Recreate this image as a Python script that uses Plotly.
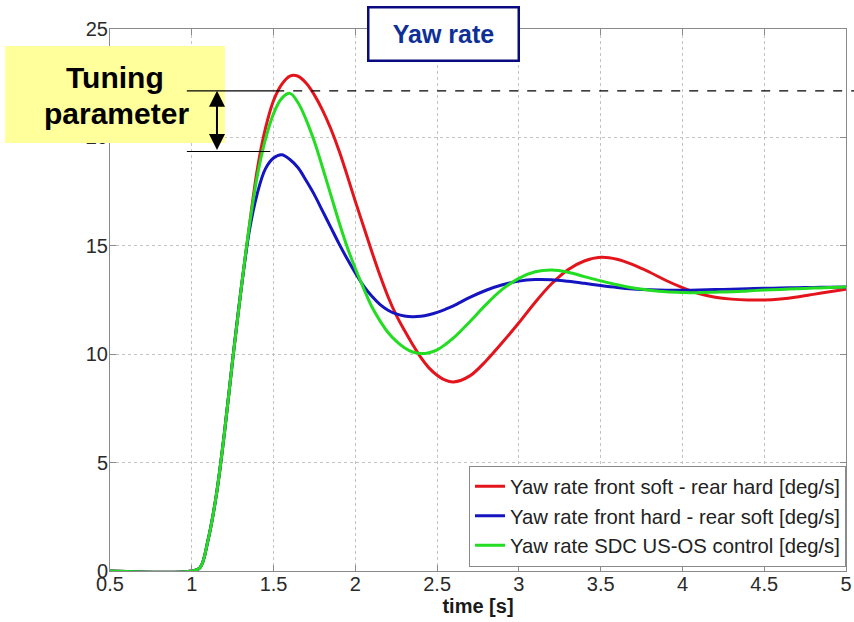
import plotly.graph_objects as go

# Time base [s]
time_s = [0.5, 1.0,
          1.05, 1.10, 1.15, 1.20, 1.25, 1.30, 1.35, 1.40, 1.45, 1.50, 1.55, 1.60,
          1.65, 1.70, 1.75, 1.80, 1.85, 1.90, 1.95, 2.00, 2.05, 2.10, 2.15, 2.20,
          2.25, 2.30, 2.35, 2.40, 2.45, 2.50, 2.55, 2.60,
          2.70, 2.80, 2.90, 3.00, 3.10, 3.20, 3.30, 3.40, 3.50, 3.60,
          3.70, 3.80, 3.90, 4.00, 4.10, 4.20, 4.30, 4.40, 4.50, 4.60,
          4.70, 4.80, 4.90, 5.00]

# Yaw rate, front soft - rear hard [deg/s]
yaw_front_soft = [0, 0,
                  0.15, 1.45, 3.5, 6.4, 9.75, 12.9, 15.8, 18.5, 20.4, 21.7, 22.45, 22.83,
                  22.82, 22.5, 21.95, 21.25, 20.4, 19.4, 18.25, 17.05, 15.9, 14.75, 13.65, 12.65,
                  11.8, 11.1, 10.45, 9.85, 9.37, 9.03, 8.8, 8.72,
                  9.0, 9.7, 10.55, 11.45, 12.4, 13.25, 13.9, 14.3, 14.47, 14.38,
                  14.12, 13.78, 13.4, 13.07, 12.8, 12.63, 12.54, 12.5, 12.5, 12.55,
                  12.64, 12.76, 12.88, 13.0]

# Yaw rate, front hard - rear soft [deg/s]
yaw_front_hard = [0, 0,
                  0.15, 1.45, 3.5, 6.4, 9.75, 12.9, 15.6, 17.4, 18.55, 19.05, 19.2, 18.98,
                  18.6, 18.0, 17.35, 16.6, 15.85, 15.1, 14.4, 13.75, 13.15, 12.68, 12.3, 12.03,
                  11.86, 11.76, 11.73, 11.75, 11.82, 11.93, 12.07, 12.23,
                  12.62, 12.95, 13.2, 13.37, 13.44, 13.43, 13.36, 13.27, 13.17, 13.08,
                  13.01, 12.97, 12.95, 12.95, 12.96, 12.98, 13.0, 13.02, 13.04, 13.05,
                  13.07, 13.08, 13.09, 13.1]

# Yaw rate with SDC US-OS control [deg/s]
yaw_sdc = [0, 0,
           0.15, 1.45, 3.5, 6.4, 9.75, 12.9, 15.8, 18.2, 19.9, 21.1, 21.8, 22.03,
           21.6, 20.8, 19.8, 18.6, 17.35, 16.1, 14.95, 13.95, 13.05, 12.2, 11.55, 11.0,
           10.6, 10.3, 10.1, 10.03, 10.07, 10.2, 10.45, 10.75,
           11.5, 12.3, 13.0, 13.5, 13.8, 13.88, 13.78, 13.58, 13.38, 13.2,
           13.05, 12.95, 12.88, 12.85, 12.84, 12.86, 12.88, 12.92, 12.96, 12.99,
           13.02, 13.05, 13.08, 13.1]

series_names = ["Yaw rate front soft - rear hard [deg/s]",
                "Yaw rate front hard - rear soft [deg/s]",
                "Yaw rate SDC US-OS control [deg/s]"]
series_colors = ["#e3141b", "#1414c0", "#22dd22"]

x_ticks = [0.5, 1, 1.5, 2, 2.5, 3, 3.5, 4, 4.5, 5]
x_tick_labels = ["0.5", "1", "1.5", "2", "2.5", "3", "3.5", "4", "4.5", "5"]
y_ticks = [0, 5, 10, 15, 20, 25]

X_RANGE = [0.5, 5]
Y_RANGE = [0, 25]

# Peak levels bracketing the tuning range
tuning_upper = 22.15
tuning_lower = 19.35

FONT = "Arial, Liberation Sans, Helvetica, sans-serif"

fig = go.Figure()
for name, ys, col in zip(series_names, [yaw_front_soft, yaw_front_hard, yaw_sdc], series_colors):
    fig.add_trace(go.Scatter(x=time_s, y=ys, name=name, mode="lines",
                             line=dict(color=col, width=3, shape="spline", smoothing=1.0)))

axis_common = dict(
    showline=True, linecolor="#8a8a8a", linewidth=1, mirror="allticks",
    ticks="inside", ticklen=6, tickcolor="#8a8a8a",
    showgrid=True, gridcolor="#c4c4c4", griddash="dot", gridwidth=1,
    zeroline=False, automargin=False,
    tickfont=dict(family=FONT, size=20, color="#2a2a2a"),
)

fig.update_xaxes(range=X_RANGE, tickvals=x_ticks, ticktext=x_tick_labels,
                 ticklabelstandoff=-5,
                 title=dict(text="<b>time [s]</b>", standoff=0,
                            font=dict(family=FONT, size=20, color="#1a1a1a")),
                 **axis_common)
fig.update_yaxes(range=Y_RANGE, tickvals=y_ticks, ticklabelstandoff=-3, **axis_common)


def ypaper(v):
    return (v - Y_RANGE[0]) / (Y_RANGE[1] - Y_RANGE[0])


def xpaper(v):
    return (v - X_RANGE[0]) / (X_RANGE[1] - X_RANGE[0])


shapes = [
    # yellow label box
    dict(type="rect", xref="paper", yref="paper", x0=-0.1427, x1=0.1563, y0=0.7897, y1=0.9686,
         fillcolor="#ffff9c", line=dict(width=0), layer="above"),
    # upper level: solid then dashed to the right
    dict(type="line", xref="x", yref="y", x0=0.97, x1=1.51, y0=tuning_upper, y1=tuning_upper,
         line=dict(color="black", width=1.2), layer="above"),
    dict(type="line", xref="paper", yref="paper", x0=xpaper(1.51), x1=1.011,
         y0=ypaper(tuning_upper), y1=ypaper(tuning_upper),
         line=dict(color="black", width=1.2, dash="dash"), layer="above"),
    # lower level
    dict(type="line", xref="x", yref="y", x0=0.97, x1=1.48, y0=tuning_lower, y1=tuning_lower,
         line=dict(color="black", width=1.2), layer="above"),
]

annotations = [
    dict(x=1.154, y=tuning_upper, ax=1.154, ay=tuning_lower, xref="x", yref="y", axref="x", ayref="y",
         text="", showarrow=True, arrowhead=2, arrowside="end+start", arrowsize=1.6,
         arrowwidth=2, arrowcolor="black"),
    dict(xref="paper", yref="paper", x=0.0068, y=0.9096, xanchor="center", yanchor="middle",
         text="<b>Tuning</b>", showarrow=False,
         font=dict(family=FONT, size=30, color="black")),
    dict(xref="paper", yref="paper", x=0.0082, y=0.8450, xanchor="center", yanchor="middle",
         text="<b>parameter</b>", showarrow=False,
         font=dict(family=FONT, size=30, color="black")),
    dict(xref="paper", yref="paper", x=0.4538, y=0.9899, xanchor="center", yanchor="middle",
         text="<b>Yaw rate</b>", showarrow=False,
         width=148, height=51, bgcolor="white", bordercolor="#0a0a80", borderwidth=2.5, borderpad=0,
         font=dict(family=FONT, size=25, color="#0d2f96")),
]

fig.update_layout(
    width=854, height=622,
    margin=dict(l=110, r=8, t=29, b=51),
    paper_bgcolor="white", plot_bgcolor="white",
    shapes=shapes, annotations=annotations,
    showlegend=True,
    legend=dict(x=1.0, xanchor="right", y=0.008, yanchor="bottom",
                bgcolor="white", bordercolor="#8a8a8a", borderwidth=1,
                font=dict(family=FONT, size=20.3, color="#222222"),
                itemwidth=30, tracegroupgap=0),
)

fig.write_html("out.html")
